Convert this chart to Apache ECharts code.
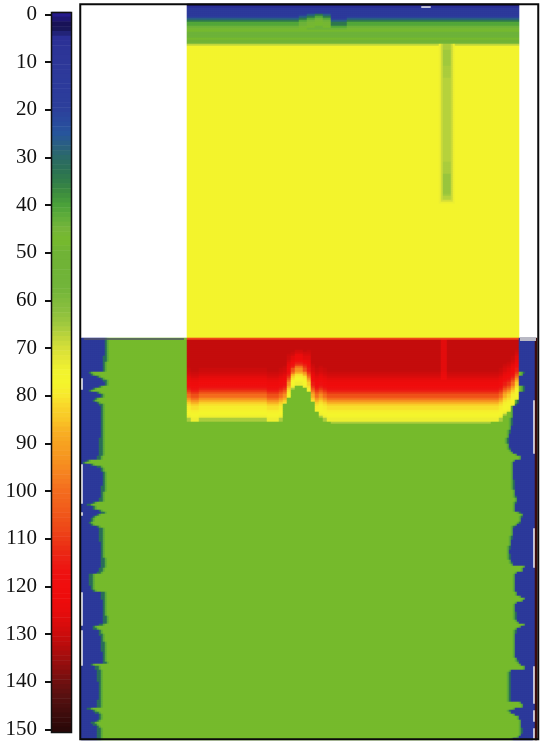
<!DOCTYPE html>
<html><head><meta charset="utf-8">
<style>html,body{margin:0;padding:0;background:#fff}#c{width:541px;height:742px}</style>
<script src="https://cdn.jsdelivr.net/npm/echarts@6/dist/echarts.min.js"></script></head>
<body><div id="c"></div>
<script>
// colour scale, one stop every 2.5 units from 0 to 150
const scaleColors = ['#261a8c','#14104a','#2b2f96','#2c3497','#2d3798','#2d3a9a','#2c3a9b','#2c3c9b','#2c409b','#2a4a9d','#27559c','#2a5f80','#2b6a68','#2b7055','#317d4a','#3d8d3e','#4ba13a','#60ad3a','#76b53a','#76ba2c','#70b336','#70b336','#70b438','#72b53a','#80bb3c','#8dc03e','#a0c93e','#bcd43c','#d5df38','#e6e836','#f2f42e','#f5f52c','#f7e82e','#f9d42a','#f9c626','#f8b024','#f7a220','#f69820','#f68a20','#f57c20','#f46c1e','#f2621c','#f0561a','#ee4a18','#ec3a16','#eb2a14','#ec1c14','#ee1010','#f00e0e','#ee0c0c','#e80c0c','#dc0c0c','#cc0c0c','#b80c0c','#a00e0e','#8a0e0e','#701010','#5c1010','#4a0e0e','#3a0b0b','#2a0808'];
// picture rows run from depth -1.99, each one 0.4193 depth units tall
const firstDepth = -1.99, depthPerRow = 0.4193, rowCount = 368;
const columnCount = 228;
// values of the top layer from depth -2, half-unit steps
const topLayer = [3,5,12,14,15,18,27,34,41,44,46,47,44,44,47,50,56,68,76];
const yellowValue = 76, greenValue = 47.5, blueValue = 15, rimValue = 147;
const interfaceDepth = 68;
const plumeFirstCol = 53, plumeLastCol = 218;
// upward shift of the blue/green boundary, depth units, one per four columns from column 53
const topShift = [0,0,0,0,0,0,0,0,0,0,0,0,0,0,0.5,1,1.5,1,-0.5,-0.5,0,0,0,0,0,0,0,0,0,0,0,0,0,0,0,0,0,0,0,0,0,0];
// streak of lower values, depth 6.5 to 39.5 by half units
const streakFirstDepth = 6.5;
const streakCore = [66,66,65,65,65,65,65,65,65,66,66,66,66,66,67,67,67,67,67,67,67,67,67,67,67,67,67,67,67,67,67,67,67,67,67,67,67,67,67,67,67,67,67,67,67,67,67,67,67,66,66,66,66,66,64,64,64,64,64,64,64,64,64,65,67,70,74];
const streakCols = [181,182,183,184], streakSideCols = [180,185], streakRimCols = [179,186];
const streakSideValue = 69, streakRimValue = 74;
// lower edge of the hot layer, one depth per two columns from column 53
const hotBottom = [85.2,85.3,85.3,85.2,85.2,85.1,85.1,85.1,85.0,85.0,85.0,85.0,85.1,85.1,85.1,85.2,85.2,85.2,85.2,85.2,85.3,85.3,85.3,85.0,81.7,80,78.8,77.9,77.7,78.3,79.4,81.3,83.3,84.7,85.2,85.4,85.5,85.6,85.6,85.6,85.7,85.7,85.7,85.7,85.6,85.6,85.5,85.5,85.5,85.5,85.6,85.6,85.6,85.6,85.6,85.6,85.6,85.5,85.5,85.5,85.5,85.5,85.6,85.6,85.6,85.6,85.6,85.6,85.6,85.6,85.6,85.6,85.5,85.5,85.5,85.5,85.4,85.3,85.0,84.2,83.4,82.3,80.9];
// colour contour over the bump: the same columns, but with steep sides
const contourBottom = {24: 84.5, 25: 82, 26: 78.5, 27: 77.7, 28: 77.7, 29: 78.3, 30: 81, 31: 84, 32: 85};
const bumpGroups = [26, 27, 28, 29], bumpStretch = 1.4;
// values with height above that lower edge, half-unit steps
const hotLayer = [66,74,76,77,78,79,81,84,88,94,100,106,111,115,118,120,122,124,126,128,129,130];
const hotDeepValue = 131, hotCeilingValue = 108;
const brightCols = [180,181,182], brightShift = 5;
// blue/green boundary at each side, in columns, depth 68 to 152 by half units
const leftEdge = [12,12,12,12, 12,12,12,12, 11.5,11.5,11,11, 11,11,4,5, 8,10,11.5,12, 9,6,4,8, 10,7,6,8, 9.5,10,10,10, 10,10,10,10, 10,10,10,10, 10,10,9.5,9.5, 9.5,9.5,9.5,9.5, 9.5,9.5,8.5,3, 1,5,8.5,10, 11,11,11,11, 11,11,10.5,10.5, 10.5,10,10,9.5, 9.5,6,3.5,6, 9,10.5,8,6, 5,4,5,8, 9.5,9.5,9.5,9.5, 9.5,9.5,10,10, 10,10,10,10, 10.5,10.5,10.5,10.5, 10.5,9.5,8.5,4.5, 4.5,4.5,4.5,4.5, 5,5,6,10.5, 10.5,10.5,11,11, 11,11,11,11, 11,11.5,11.5,11.5, 9.5,6,6.5,9, 9.5,10,10,10, 10.5,10.5,10.5,10.5, 11,11,11,11, 11.5,5,7.5,8.5, 8.5,8.5,8.5,8.5, 9,9,9,9, 9,9,9,9, 8.5,8.5,8.5,3.5, 6,7.5,9,9, 8,5.5,6.5,8, 8.5,8.5,8.5,8.5, 8.5];
const rightEdge = [218.5,218.5,218.5,218.5, 218.5,218.5,218.5,218.5, 218.5,218.5,218.5,218.5, 218.5,218.5,221.5,221, 219,218.5,218.5,219, 221.5,221.5,221.5,219, 218.5,218.5,218.5,218.5, 217.5,216,216,216, 216,216,215.5,215.5, 215.5,215,215,214.5, 214,214,213.5,213.5, 213.5,214,214.5,215, 216,218,220,217, 216,216,216,216, 216,216,216,216, 216.5,216.5,216.5,216.5, 217,217,217.5,218, 218,217.5,217,217, 217,219.5,221,220.5, 220,219.5,218,216.5, 216,216,216,215.5, 215.5,215,215,214.5, 214.5,214,214,214.5, 214.5,215,215.5,216, 222,221,218,217, 217,217,217,217, 217,217,217,218, 220,222,221,218, 217,217,217,217.5, 217.5,217.5,218,219, 222,220,218,217.5, 217,217,217,217, 217,217,217,217, 217,217,218,218.5, 219,220,222,215, 214.5,214.5,214.5,214.5, 214.5,214.5,214.5,214.5, 214.5,214.5,214.5,214.5, 214.5,220,221,217, 214.5,215,217,219, 220,220,220,220, 220.5,220.5,220,219, 216];
const fringeNear = 32, fringeFar = 42;
// pale gaps next to the frame, [first depth, last depth]
const leftGaps = [[76.5,78.5],[94.5,102.5],[104.5,105],[121.5,128],[129.5,136.5]];
const rightGaps = [[81,92],[108,116],[137,144.5],[146,148],[150,152]];
// small pale mark in the top layer: depth, first column, last column
const topMark = [-1.5,170,174];

const barTicks = [];
const barData = [];
for (let v = 0; v <= 150; v++) { barTicks.push(String(v)); barData.push([0, v, v]); }

const inGaps = (gaps, d) => gaps.some(g => d >= g[0] && d <= g[1]);
const rows = [];
const cells = [];
for (let r = 0; r < rowCount; r++) {
  rows.push(r);
  const d = Math.round((firstDepth + r * depthPerRow) * 2) / 2;
  for (let c = 0; c < columnCount; c++) {
    let v = null;
    if (d < interfaceDepth) {
      if (c < plumeFirstCol || c > plumeLastCol) continue;
      if (d === topMark[0] && c >= topMark[1] && c <= topMark[2]) continue;
      const shift = d >= 0 && d < 3.5 ? topShift[Math.floor((c - plumeFirstCol) / 4)] : 0;
      const t = Math.round((d + shift + 2) * 2);
      v = t < topLayer.length ? topLayer[Math.max(t, 0)] : yellowValue;
      if (d >= streakFirstDepth) {
        const s = streakCore[(d - streakFirstDepth) * 2];
        if (s !== undefined) {
          if (streakCols.includes(c)) v = s;
          else if (streakSideCols.includes(c)) v = Math.max(s, streakSideValue);
          else if (streakRimCols.includes(c)) v = Math.max(s, streakRimValue);
        }
      }
    } else {
      const i = (d - interfaceDepth) * 2;
      const le = leftEdge[i], re = rightEdge[i];
      v = greenValue;
      if (c + 1 <= le) v = blueValue;
      else if (c < le + 1) v = fringeNear;
      else if (c < le + 2) v = fringeFar;
      else if (c >= re) v = blueValue;
      else if (c + 1 > re) v = fringeNear;
      else if (c + 2 > re) v = fringeFar;
      if (c === 0 && inGaps(leftGaps, d)) continue;
      if (c === columnCount - 2 && inGaps(rightGaps, d)) continue;
      if (c === columnCount - 1) v = rimValue;
      if (c >= plumeFirstCol && c <= plumeLastCol) {
        const g = Math.floor((c - plumeFirstCol) / 2);
        if (hotBottom[g] - d >= 0) {
          const contour = contourBottom[g] !== undefined ? contourBottom[g] : hotBottom[g];
          const h = Math.max(contour - d, 0) * (bumpGroups.includes(g) ? bumpStretch : 1);
          const k = hotLayer[Math.round(h * 2)];
          v = d === interfaceDepth ? hotCeilingValue : (k !== undefined ? k : hotDeepValue);
          if (brightCols.includes(c) && v > 125) v -= brightShift;
        }
      }
    }
    cells.push([c, r, v]);
  }
}
const cols = [];
for (let c = 0; c < columnCount; c++) cols.push(c);

const chart = echarts.init(document.getElementById('c'), null, {renderer: 'canvas'});
chart.setOption({
  animation: false,
  backgroundColor: '#fff',
  visualMap: {show: false, type: 'continuous', min: 0, max: 150, dimension: 2, seriesIndex: [0, 1], inRange: {color: scaleColors}},
  grid: [
    {left: 52, width: 19, top: 12.1, height: 719.8},
    {left: 81, width: 456, top: 4, height: 736}
  ],
  xAxis: [
    {gridIndex: 0, type: 'category', data: ['bar'], show: false},
    {gridIndex: 1, type: 'category', data: cols, show: false}
  ],
  yAxis: [
    {gridIndex: 0, type: 'category', inverse: true, data: barTicks,
     axisLine: {show: false},
     axisTick: {show: true, interval: 9, alignWithLabel: true, length: 7, lineStyle: {color: '#111', width: 2}},
     axisLabel: {show: true, interval: 9, margin: 15, padding: [3, 0, 0, 0], fontFamily: 'Liberation Serif', fontSize: 21, color: '#111'}},
    {gridIndex: 1, type: 'category', inverse: true, data: rows, show: false}
  ],
  series: [
    {type: 'heatmap', xAxisIndex: 0, yAxisIndex: 0, data: barData, progressive: 0, silent: true},
    {type: 'heatmap', xAxisIndex: 1, yAxisIndex: 1, data: cells, progressive: 0, silent: true,
     markLine: {silent: true, symbol: 'none', label: {show: false}, animation: false,
       data: [
         [{coord: [1, 167], lineStyle: {color: '#55556a', width: 1.5, type: 'solid'}}, {coord: [51, 167]}],
         [{coord: [219, 167], lineStyle: {color: '#b9b9c4', width: 4, type: 'solid'}}, {coord: [227, 167]}]
       ]}}
  ],
  graphic: [
    {type: 'rect', z: 100, silent: true, shape: {x: 51.5, y: 12.5, width: 20, height: 720}, style: {fill: 'none', stroke: '#111', lineWidth: 1.5}},
    {type: 'rect', z: 100, silent: true, shape: {x: 80.25, y: 4.25, width: 458, height: 735}, style: {fill: 'none', stroke: '#0a0a0a', lineWidth: 2}}
  ]
});
</script></body></html>
